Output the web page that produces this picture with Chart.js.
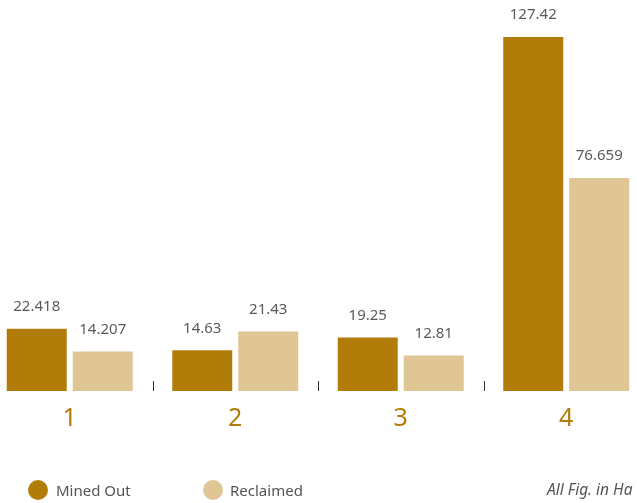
<!DOCTYPE html>
<html>
<head>
<meta charset="utf-8">
<script src="https://cdn.jsdelivr.net/npm/chart.js@4"></script>
<style>
  html, body { margin: 0; padding: 0; background: #fff; width: 637px; height: 503px; overflow: hidden; position: relative; font-family: "Noto Sans", sans-serif; }
  #wrap { position: absolute; left: -13px; top: 0; width: 662px; height: 503px; }
  .legend-dot { position: absolute; width: 20px; height: 20px; border-radius: 50%; }
  .legend-text { position: absolute; font-size: 15px; color: #555; line-height: 20px; white-space: nowrap; }
  .note { position: absolute; font-size: 15.5px; font-style: italic; color: #555; line-height: 20px; white-space: nowrap; }
</style>
</head>
<body>
<div id="wrap"><canvas id="chart"></canvas></div>
<div class="legend-dot" style="left:28px; top:480px; background:#B17D08;"></div>
<div class="legend-text" style="left:56px; top:480px;">Mined Out</div>
<div class="legend-dot" style="left:203px; top:480px; background:#E0C595;"></div>
<div class="legend-text" style="left:230px; top:480px;">Reclaimed</div>
<div class="note" style="left:547px; top:479px;">All Fig. in Ha</div>
<script>
const categories = ['1', '2', '3', '4'];
const minedOut = [22.418, 14.63, 19.25, 127.42];
const reclaimed = [14.207, 21.43, 12.81, 76.659];

const MINED_COLOR = '#B17D08';
const RECLAIMED_COLOR = '#E0C595';

// value text above each bar
const valueLabels = {
  id: 'valueLabels',
  afterDatasetsDraw(chart) {
    const ctx = chart.ctx;
    ctx.save();
    ctx.font = '15px "Noto Sans", sans-serif';
    ctx.fillStyle = '#5a5a5a';
    ctx.textAlign = 'center';
    ctx.textBaseline = 'middle';
    chart.data.datasets.forEach((ds, di) => {
      chart.getDatasetMeta(di).data.forEach((bar, i) => {
        ctx.fillText(String(ds.data[i]), bar.x, bar.y - 22);
      });
    });
    ctx.restore();
  }
};

// short separators between category groups, sitting on the baseline
const groupSeparators = {
  id: 'groupSeparators',
  afterDatasetsDraw(chart) {
    const x = chart.scales.x;
    const bottom = chart.chartArea.bottom;
    const ctx = chart.ctx;
    ctx.save();
    ctx.strokeStyle = '#333';
    ctx.lineWidth = 1;
    for (let i = 0; i < categories.length - 1; i++) {
      const px = Math.round((x.getPixelForValue(i) + x.getPixelForValue(i + 1)) / 2) + 0.5;
      ctx.beginPath();
      ctx.moveTo(px, bottom - 10);
      ctx.lineTo(px, bottom);
      ctx.stroke();
    }
    ctx.restore();
  }
};

new Chart(document.getElementById('chart'), {
  type: 'bar',
  data: {
    labels: categories,
    datasets: [
      { label: 'Mined Out', data: minedOut, backgroundColor: MINED_COLOR },
      { label: 'Reclaimed', data: reclaimed, backgroundColor: RECLAIMED_COLOR }
    ]
  },
  options: {
    responsive: true,
    maintainAspectRatio: false,
    animation: false,
    datasets: { bar: { categoryPercentage: 0.7976, barPercentage: 0.909 } },
    layout: { padding: { top: 2, left: 0, right: 0, bottom: 0 } },
    plugins: { legend: { display: false }, tooltip: { enabled: false } },
    scales: {
      x: {
        grid: { display: false, drawTicks: false },
        border: { display: false },
        ticks: {
          color: '#B17D08',
          font: { family: '"Noto Sans", sans-serif', size: 25 },
          padding: 13
        },
        afterFit(scale) { scale.height = 112; }
      },
      y: {
        display: false,
        min: 0,
        max: 140
      }
    }
  },
  plugins: [valueLabels, groupSeparators]
});
</script>
</body>
</html>
